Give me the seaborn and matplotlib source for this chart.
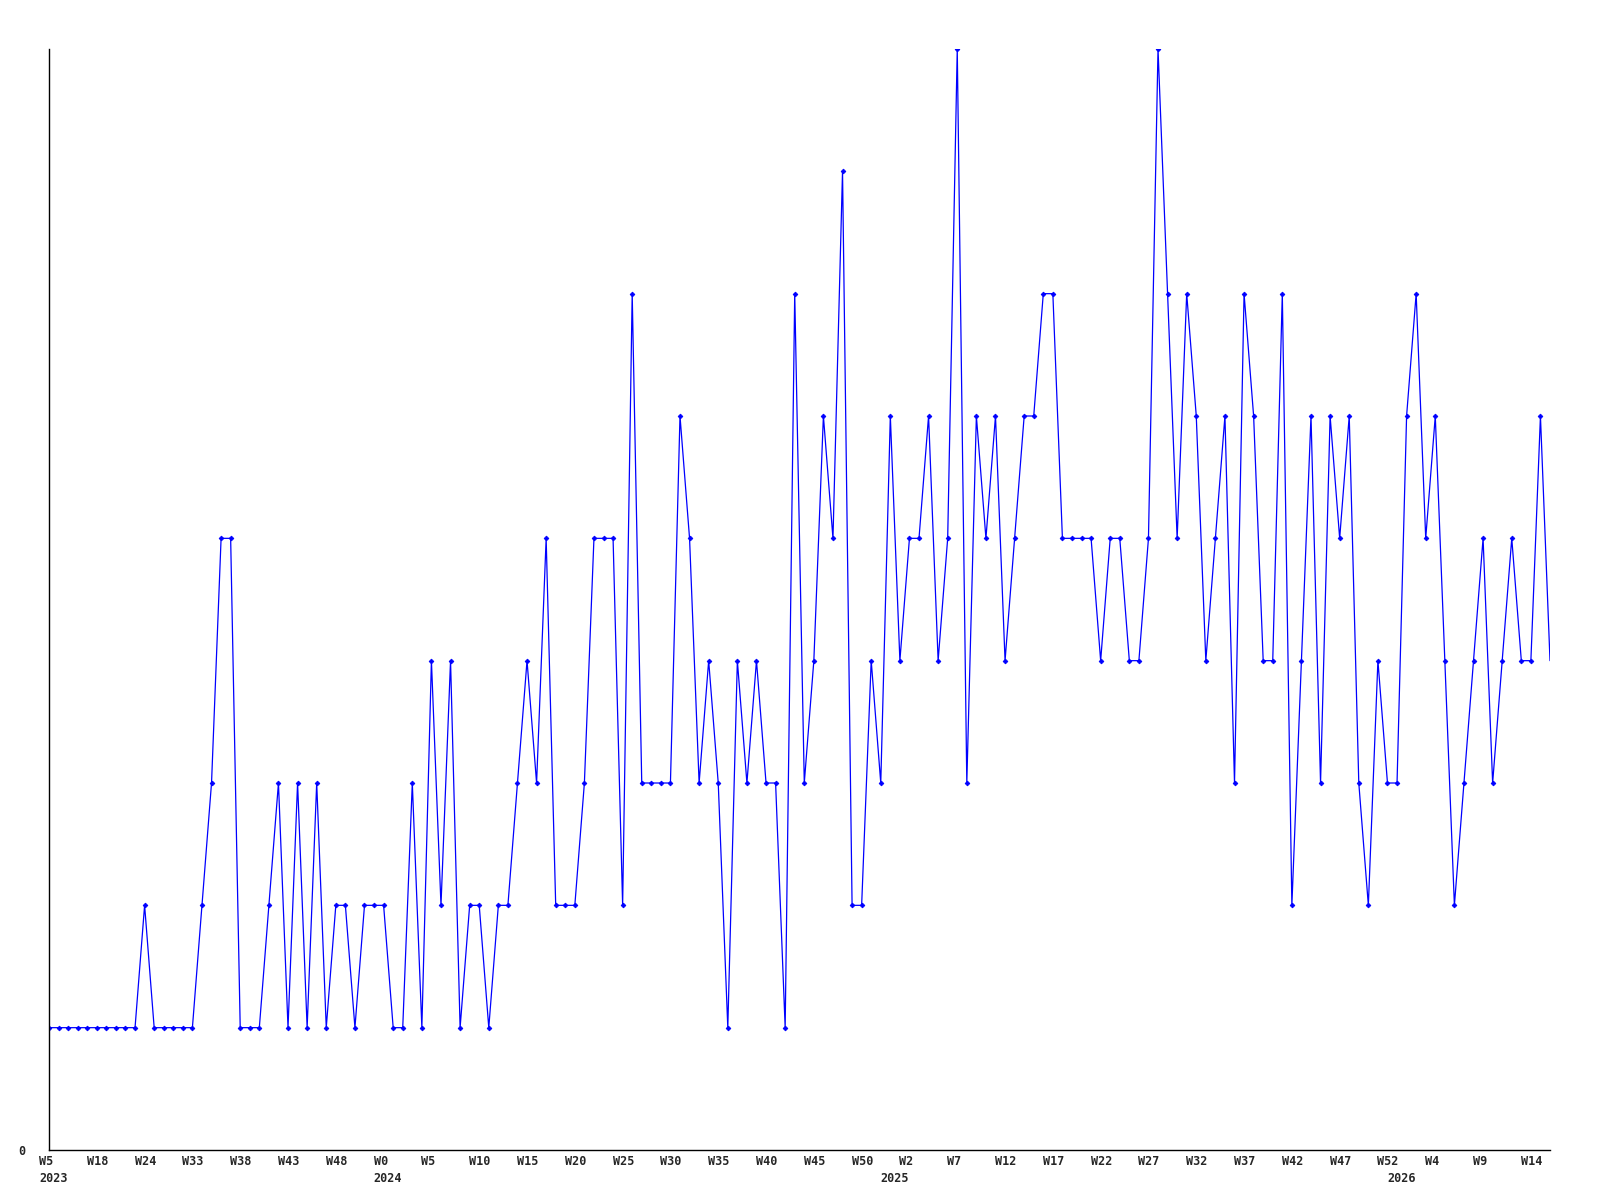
import numpy as np
import pandas as pd
import matplotlib
matplotlib.use("Agg")
import matplotlib.pyplot as plt
import matplotlib.transforms as mtransforms
import seaborn as sns

# weekly counts (one value per plotted week)
weekly_counts = [
    1, 1, 1, 1, 1, 1, 1, 1, 1, 1, 2, 1, 1, 1, 1, 1, 2, 3, 5, 5,
    1, 1, 1, 2, 3, 1, 3, 1, 3, 1, 2, 2, 1, 2, 2, 2, 1, 1, 3, 1,
    4, 2, 4, 1, 2, 2, 1, 2, 2, 3, 4, 3, 5, 2, 2, 2, 3, 5, 5, 5,
    2, 7, 3, 3, 3, 3, 6, 5, 3, 4, 3, 1, 4, 3, 4, 3, 3, 1, 7, 3,
    4, 6, 5, 8, 2, 2, 4, 3, 6, 4, 5, 5, 6, 4, 5, 9, 3, 6, 5, 6,
    4, 5, 6, 6, 7, 7, 5, 5, 5, 5, 4, 5, 5, 4, 4, 5, 9, 7, 5, 7,
    6, 4, 5, 6, 3, 7, 6, 4, 4, 7, 2, 4, 6, 3, 6, 5, 6, 3, 2, 4,
    3, 3, 6, 7, 5, 6, 4, 2, 3, 4, 5, 3, 4, 5, 4, 4, 6, 4,
]

# x tick labels, one every 5 weeks
week_labels = ["W5", "W18", "W24", "W33", "W38", "W43", "W48", "W0", "W5", "W10",
               "W15", "W20", "W25", "W30", "W35", "W40", "W45", "W50", "W2", "W7",
               "W12", "W17", "W22", "W27", "W32", "W37", "W42", "W47", "W52", "W4",
               "W9", "W14"]
tick_step = 5

# year markers (first week of each year in the series)
year_positions = [0, 35, 88, 141]
year_labels = ["2023", "2024", "2025", "2026"]

df = pd.DataFrame({"week": np.arange(len(weekly_counts)), "count": weekly_counts})

sns.set_theme(style="white")
plt.rcParams["font.family"] = ["DejaVu Sans Mono", "DejaVu Sans"]

fig = plt.figure(figsize=(16, 12), dpi=100)
ax = fig.add_axes([49 / 1600, 50 / 1200, (1550 - 49) / 1600, (1150 - 49) / 1200])

sns.lineplot(data=df, x="week", y="count", ax=ax, color="#0000ff", linewidth=0.9,
             marker="D", markersize=2.4, markeredgewidth=0.6, markeredgecolor="#0000ff",
             markevery=list(range(len(weekly_counts) - 1)))

ax.set_xlim(0, len(weekly_counts) - 1)
ax.set_ylim(0, max(weekly_counts))

ax.set_xticks(np.arange(len(week_labels)) * tick_step)
ax.set_xticklabels(week_labels, fontsize=8.5, fontweight="bold")
ax.set_yticks([0])
ax.set_yticklabels(["0"], fontsize=8.5, fontweight="bold")
ax.tick_params(axis="x", length=0, pad=3.5)
ax.tick_params(axis="y", length=0, pad=17)
ax.set_xlabel("")
ax.set_ylabel("")

# labels start a little left of their tick
shift = mtransforms.ScaledTranslation(-10 / 100, 0, fig.dpi_scale_trans)
for lab in ax.get_xticklabels():
    lab.set_horizontalalignment("left")
    lab.set_transform(lab.get_transform() + shift)

for side in ["top", "right"]:
    ax.spines[side].set_visible(False)
for side in ["left", "bottom"]:
    ax.spines[side].set_color("black")
    ax.spines[side].set_linewidth(1.0)

trans = mtransforms.blended_transform_factory(ax.transData, ax.transAxes) + \
    mtransforms.ScaledTranslation(-10 / 100, -28 / 100, fig.dpi_scale_trans)
for pos, yr in zip(year_positions, year_labels):
    ax.text(pos, 0, yr, transform=trans, ha="left", va="center",
            fontsize=8.5, fontweight="bold")

fig.savefig("out.png", dpi=100, facecolor="white")
